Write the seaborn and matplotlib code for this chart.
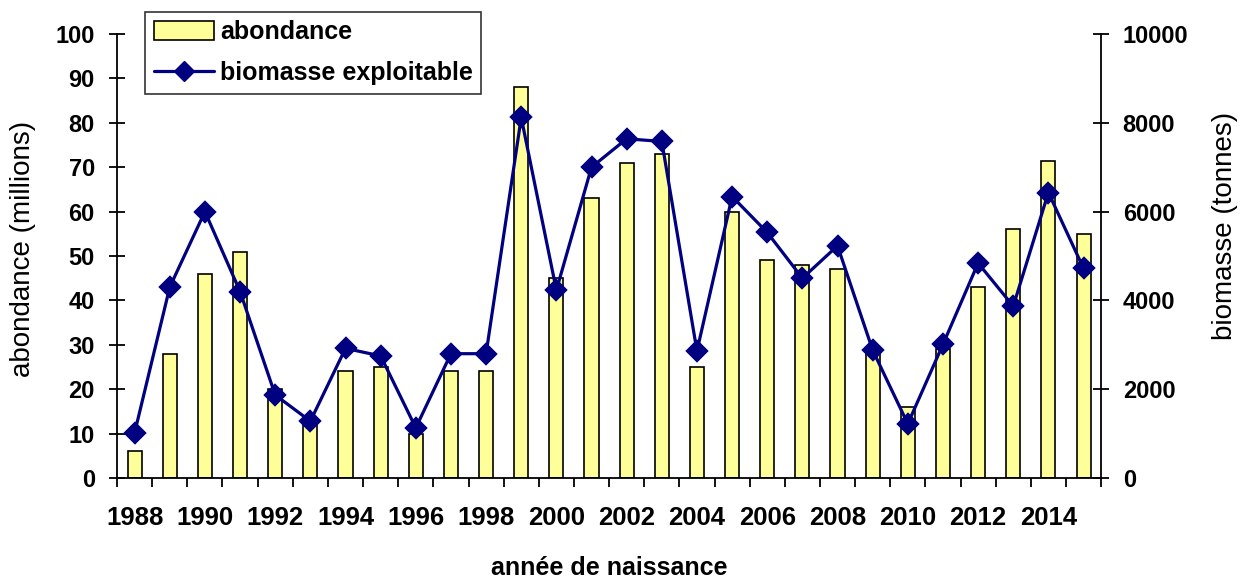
import matplotlib
matplotlib.use("Agg")
import matplotlib.pyplot as plt
from matplotlib.lines import Line2D
from matplotlib.patches import Patch
from matplotlib.ticker import FixedLocator, MultipleLocator
import seaborn as sns
import pandas as pd
import numpy as np

years = list(range(1988, 2016))
abondance = [6, 28, 46, 51, 20, 13, 24, 25, 10, 24, 24, 88, 45, 63, 71, 73, 25,
             60, 49, 48, 47, 29, 16, 29, 43, 56, 71.5, 55]
biomasse = [1020, 4300, 6000, 4200, 1870, 1280, 2920, 2750, 1130, 2800, 2800,
            8120, 4230, 7000, 7640, 7580, 2860, 6340, 5530, 4500, 5230, 2880,
            1220, 3010, 4840, 3870, 6430, 4720]

df = pd.DataFrame({"annee": [str(y) for y in years],
                   "abondance": abondance,
                   "biomasse": biomasse})

sns.set_theme(style="white")
plt.rcParams["font.family"] = ["Liberation Sans", "DejaVu Sans"]
plt.rcParams["font.weight"] = "bold"
for key in ("text.color", "axes.labelcolor", "xtick.color", "ytick.color"):
    plt.rcParams[key] = "black"

bar_color = "#FFFF99"
line_color = "#000080"

fig = plt.figure(figsize=(12.48, 5.79), dpi=100)
ax = fig.add_axes([0.0938, 0.1744, 0.7885, 0.7669])

sns.barplot(data=df, x="annee", y="abondance", ax=ax, color=bar_color,
            edgecolor="black", linewidth=1.2, width=0.4, saturation=1)

ax2 = ax.twinx()
sns.pointplot(data=df, x="annee", y="biomasse", ax=ax2, color=line_color,
              markers="D", linestyles="-", markersize=10.5, linewidth=2.3)

n = len(years)
ax.set_xlim(-0.5, n - 0.5)
ax.set_ylim(0, 100)
ax2.set_ylim(0, 10000)
ax.yaxis.set_major_locator(MultipleLocator(10))
ax2.yaxis.set_major_locator(MultipleLocator(2000))

ax.set_xticks(range(n))
ax.set_xticklabels([str(y) if y % 2 == 0 else "" for y in years])
ax.xaxis.set_minor_locator(FixedLocator(np.arange(-0.5, n, 1.0)))
ax.tick_params(axis="x", which="major", length=0, pad=20, labelsize=18.5)
ax.tick_params(axis="x", which="minor", length=6.5, width=1.3, direction="out",
               color="black", bottom=True)
ax.tick_params(axis="y", which="major", length=12, width=1.3, direction="inout",
               pad=10, labelsize=17, color="black", left=True)
ax2.tick_params(axis="y", which="major", length=11, width=1.3, direction="inout",
                pad=10, labelsize=17, color="black", right=True)

for a in (ax, ax2):
    for side in ("left", "right", "bottom"):
        a.spines[side].set_color("black")
        a.spines[side].set_linewidth(1.3)
    a.spines["top"].set_visible(False)
    for lab in a.get_xticklabels() + a.get_yticklabels():
        lab.set_fontweight("bold")
ax.spines["right"].set_visible(False)
ax2.spines["left"].set_visible(False)
ax2.spines["bottom"].set_visible(False)

ax.set_xlabel("année de naissance", fontsize=18, fontweight="bold", labelpad=19)
ax.set_ylabel("abondance (millions)", fontsize=20, fontweight="normal", labelpad=14)
ax2.set_ylabel("biomasse (tonnes)", fontsize=20, fontweight="normal", labelpad=17)
ax.yaxis.label.set_y(0.516)
ax2.yaxis.label.set_y(0.568)
ax.grid(False)
ax2.grid(False)

handles = [Patch(facecolor=bar_color, edgecolor="black", linewidth=1.2),
           Line2D([], [], color=line_color, linewidth=2.3, marker="D",
                  markersize=10.5)]
leg = ax2.legend(handles, ["abondance", "biomasse exploitable"],
                 loc="upper left", bbox_to_anchor=(0.0285, 1.050),
                 frameon=True, fancybox=False, edgecolor="black",
                 prop={"size": 18, "weight": "bold"},
                 handlelength=2.4, handleheight=0.75, borderpad=0.34,
                 labelspacing=0.67, handletextpad=0.25, borderaxespad=0)
leg.get_frame().set_linewidth(1.2)
leg.set_zorder(10)

fig.savefig("out.png", dpi=100)
